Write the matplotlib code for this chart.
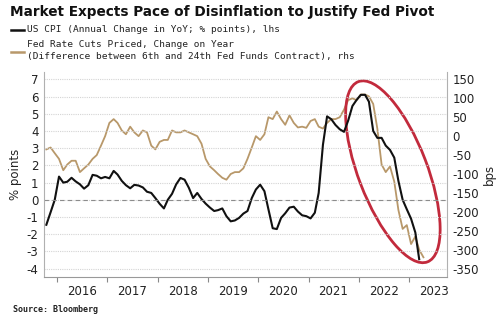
import matplotlib
matplotlib.use("Agg")
import matplotlib.pyplot as plt
import matplotlib.dates as mdates
from matplotlib.patches import Ellipse
from matplotlib.lines import Line2D
from matplotlib.transforms import ScaledTranslation
import pandas as pd

# ---------------- data (monthly) ----------------

# US CPI, annual change in YoY (% points), lhs -- Oct 2015 .. Mar 2023
cpi_change = [
    -1.45, -0.72, 0.0, 1.35, 1.0, 1.05, 1.28, 1.07, 0.9, 0.65,
    0.85, 1.45, 1.4, 1.25, 1.33, 1.25, 1.68, 1.47, 1.1, 0.85,
    0.67, 0.87, 0.83, 0.72, 0.47, 0.4, 0.1, -0.23, -0.5, 0.0,
    0.35, 0.9, 1.27, 1.17, 0.7, 0.1, 0.4, 0.05, -0.22, -0.45,
    -0.65, -0.6, -0.5, -0.95, -1.25, -1.2, -1.05, -0.8, -0.65, 0.1,
    0.6, 0.88, 0.5, -0.55, -1.65, -1.7, -1.05, -0.78, -0.45, -0.4,
    -0.68, -0.9, -0.95, -1.08, -0.75, 0.4, 3.2, 4.85, 4.68, 4.35,
    4.1, 3.95, 4.6, 5.45, 5.8, 6.1, 6.1, 5.7, 4.0, 3.6,
    3.6, 3.15, 2.9, 2.45, 1.1, 0.0, -0.55, -1.1, -1.9, -3.45,
]

# Fed rate cuts priced, change on year (bps), rhs -- Oct 2015 .. Apr 2023
rate_cuts = [
    -35, -30, -45, -60, -90, -75, -65, -65, -95, -85,
    -75, -60, -50, -25, 0, 35, 45, 35, 15, 5,
    25, 10, 0, 15, 10, -25, -35, -15, -10, -10,
    15, 10, 10, 15, 10, 5, 0, -20, -60, -80,
    -90, -100, -110, -115, -100, -95, -95, -85, -60, -30,
    0, -10, 5, 50, 45, 65, 45, 30, 55, 35,
    23, 25, 22, 40, 45, 25, 20, 35, 45, 45,
    50, 70, 95, 100, 95, 110, 110, 105, 85, 20,
    -75, -95, -80, -120, -195, -245, -235, -285, -265, -300,
    -320,
]

start = "2015-10-01"
cpi_dates = pd.date_range(start, periods=len(cpi_change), freq="MS") + pd.DateOffset(days=14)
cut_dates = pd.date_range(start, periods=len(rate_cuts), freq="MS") + pd.DateOffset(days=14)

left_ticks = list(range(-4, 8))
right_ticks = list(range(-350, 151, 50))

title = "Market Expects Pace of Disinflation to Justify Fed Pivot"
label_cpi = "US CPI (Annual Change in YoY; % points), lhs"
label_cuts_1 = "Fed Rate Cuts Priced, Change on Year"
label_cuts_2 = "(Difference between 6th and 24th Fed Funds Contract), rhs"

BLACK = "#111111"
TAN = "#b8986a"
RED = "#c22a3c"
GRID = "#d4d4d4"
SPINE = "#b0b0b0"

plt.rcParams["font.family"] = "DejaVu Sans"
plt.rcParams["axes.unicode_minus"] = False

# ---------------- plot ----------------

fig = plt.figure(figsize=(5, 3.22), dpi=100)
ax = fig.add_axes([0.088, 0.14, 0.806, 0.636])
ax2 = ax.twinx()

ax2.plot(cut_dates, rate_cuts, color=TAN, lw=1.3)
ax.plot(cpi_dates, cpi_change, color=BLACK, lw=1.5)

# black line on top of the tan one
ax.set_zorder(ax2.get_zorder() + 1)
ax.patch.set_visible(False)

# both axes share the same pixel grid: 7 <-> 150 bps, -4 <-> -350 bps
lo, hi = -4.48, 7.42
ax.set_ylim(lo, hi)
ax2.set_ylim(150 + (lo - 7) * 500 / 11, 150 + (hi - 7) * 500 / 11)
ax.set_xlim(pd.Timestamp("2015-09-28"), pd.Timestamp("2023-10-03"))

ax.set_yticks(left_ticks)
ax2.set_yticks(right_ticks)
ax.yaxis.grid(True, color=GRID, linestyle=(0, (1, 1)), lw=0.8)
ax.axhline(0, color="#8c8c8c", linestyle=(0, (4, 3)), lw=0.8)

ax.xaxis.set_major_locator(mdates.YearLocator())
ax.xaxis.set_major_formatter(plt.NullFormatter())
ax.xaxis.set_minor_locator(mdates.MonthLocator(bymonth=7))
ax.xaxis.set_minor_formatter(mdates.DateFormatter("%Y"))
ax.tick_params(axis="x", which="major", length=3.5, color="#888888")
ax.tick_params(axis="x", which="minor", length=0, pad=5.5, labelsize=8.5, labelcolor="#222222")
ax.tick_params(axis="y", length=0, pad=4, labelsize=8.5, labelcolor="#222222")
ax2.tick_params(axis="y", length=0, pad=4, labelsize=8.5, labelcolor="#222222")

for s in ["top", "right"]:
    ax.spines[s].set_visible(False)
for s in ["top", "left", "bottom"]:
    ax2.spines[s].set_visible(False)
ax.spines["left"].set_color(SPINE)
ax.spines["bottom"].set_color("#999999")
ax2.spines["right"].set_color(SPINE)

ax.set_ylabel("% points", fontsize=8.5, labelpad=3, color="#222222")
ax2.set_ylabel("bps", fontsize=8.5, labelpad=3, rotation=90, color="#222222")

# red ellipse around the 2022 drop
centre = (mdates.date2num(pd.Timestamp("2022-09-05")), 1.63)
ell = Ellipse((0, 0), 0.69, 1.93, angle=21, fill=False, ec=RED, lw=2.0,
              transform=fig.dpi_scale_trans + ScaledTranslation(*centre, ax.transData))
fig.add_artist(ell)

# ---------------- title / legend / source ----------------

fig.text(0.02, 0.964, title, fontsize=9.8, fontweight="bold", va="center", color="#111111")

mono = "DejaVu Sans Mono"
fig.add_artist(Line2D([0.021, 0.047], [0.908, 0.908], transform=fig.transFigure, color=BLACK, lw=1.8))
fig.add_artist(Line2D([0.021, 0.047], [0.839, 0.839], transform=fig.transFigure, color=TAN, lw=1.8))
fig.text(0.054, 0.908, label_cpi, family=mono, fontsize=6.8, va="center", color="#222222")
fig.text(0.054, 0.863, label_cuts_1, family=mono, fontsize=6.8, va="center", color="#222222")
fig.text(0.054, 0.823, label_cuts_2, family=mono, fontsize=6.8, va="center", color="#222222")

fig.text(0.026, 0.04, "Source: Bloomberg", family=mono, fontsize=6, fontweight="bold",
         va="center", color="#222222")

fig.savefig("out.png", dpi=100)
